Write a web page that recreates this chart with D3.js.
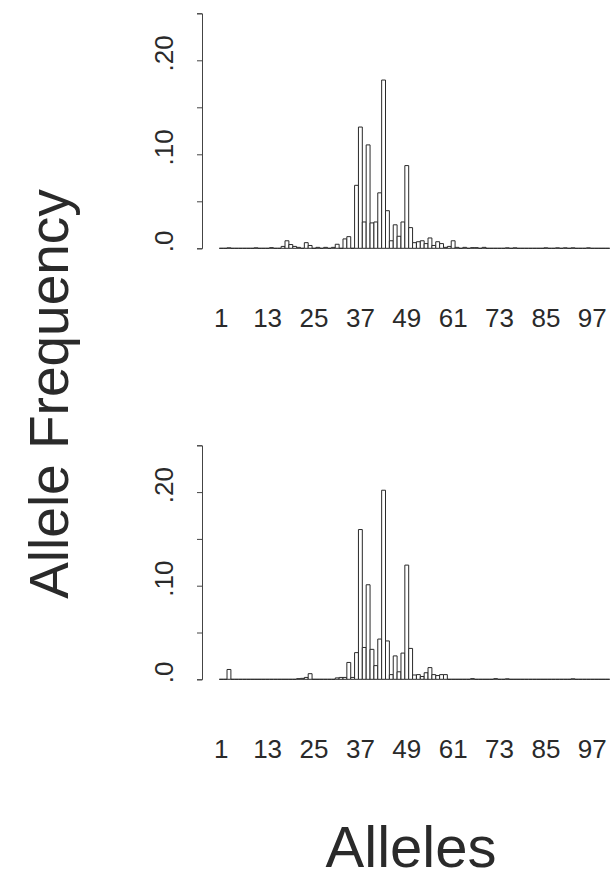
<!DOCTYPE html>
<html>
<head>
<meta charset="utf-8">
<script src="https://cdn.jsdelivr.net/npm/d3@7"></script>
<style>
  body { margin: 0; background: #fff; }
  text { font-family: "Liberation Sans", Arial, sans-serif; fill: #2a2a2a; }
</style>
</head>
<body>
<div id="container"></div>
<script>
let w = 610;
let h = 882;

// allele categories 1..101
let alleles = d3.range(1, 102);

// upper panel: alleles with a non-zero frequency
let topAlleles = [3, 10, 14, 17, 18, 19, 20, 21, 23, 24, 26, 28, 30, 31, 33, 34,
  36, 37, 38, 39, 40, 41, 42, 43, 44, 45, 46, 47, 48, 49, 50, 51, 52, 53, 54, 55,
  56, 57, 58, 59, 60, 61, 62, 64, 66, 67, 69, 75, 77, 85, 88, 90, 92, 96];
let topFreq = [0.0005, 0.0005, 0.0007, 0.002, 0.008, 0.004, 0.002, 0.001, 0.006, 0.003, 0.001, 0.001, 0.001, 0.0043, 0.010, 0.0124,
  0.067, 0.129, 0.028, 0.110, 0.027, 0.028, 0.059, 0.179, 0.040, 0.008, 0.025, 0.0128, 0.028, 0.088, 0.022, 0.006, 0.007, 0.008, 0.005, 0.011,
  0.003, 0.007, 0.005, 0.001, 0.002, 0.008, 0.001, 0.001, 0.0007, 0.0007, 0.001, 0.0005, 0.0005, 0.0005, 0.0005, 0.0005, 0.0005, 0.0005];

// lower panel
let botAlleles = [3, 21, 22, 23, 24, 31, 32, 33, 34, 35, 36, 37, 38, 39, 40, 41, 42, 43, 44, 45,
  46, 47, 48, 49, 50, 51, 52, 53, 54, 55, 56, 57, 58, 59, 66, 72, 75, 92];
let botFreq = [0.0105, 0.0007, 0.001, 0.002, 0.006, 0.0015, 0.002, 0.002, 0.018, 0.002, 0.0285, 0.160, 0.034, 0.101, 0.032, 0.0146, 0.043, 0.202, 0.041, 0.005,
  0.025, 0.008, 0.028, 0.122, 0.033, 0.0046, 0.005, 0.003, 0.007, 0.0125, 0.005, 0.004, 0.005, 0.005, 0.0007, 0.0007, 0.0005, 0.0005];

let xTicks = [1, 13, 25, 37, 49, 61, 73, 85, 97];
let yTicks = [0, 0.05, 0.10, 0.15, 0.20, 0.25];
let yLabels = [[0, ".0"], [0.10, ".10"], [0.20, ".20"]];

let viz = d3.select("#container")
  .append("svg")
    .attr("width", w)
    .attr("height", h)
    .style("background-color", "#fff");

let x = d3.scaleBand()
  .domain(alleles)
  .range([219.3, 609.7])
  .padding(0);

function fullSeries(as, fs) {
  let m = new Map(as.map((a, i) => [a, fs[i]]));
  return alleles.map(a => ({allele: a, freq: m.get(a) || 0}));
}

function panel(series, base, top) {
  let y = d3.scaleLinear().domain([0, 0.25]).range([base, top]);

  // y axis
  viz.append("g")
    .attr("transform", "translate(202,0)")
    .call(d3.axisLeft(y).tickValues(yTicks).tickSize(5).tickSizeOuter(5).tickFormat(""))
    .call(g => g.selectAll("path, line").attr("stroke", "#444").attr("stroke-width", 1));

  viz.selectAll(null).data(yLabels).enter()
    .append("text")
      .attr("transform", d => "translate(173," + (y(d[0]) - 7) + ") rotate(-90)")
      .attr("text-anchor", "middle")
      .style("font-size", "26px")
      .text(d => d[1]);

  // bars (zero ones collapse to the baseline)
  viz.append("g").selectAll("path").data(series).enter()
    .append("path")
      .attr("d", d => {
        let x0 = x(d.allele), x1 = x0 + x.bandwidth();
        return "M" + x0 + "," + y(0) + "V" + y(d.freq) + "H" + x1 + "V" + y(0) + "Z";
      })
      .attr("fill", "#fff")
      .attr("stroke", "#2a2a2a")
      .attr("stroke-width", 1);

  // allele labels
  viz.selectAll(null).data(xTicks).enter()
    .append("text")
      .attr("x", d => x(d) + x.bandwidth() / 2)
      .attr("y", base + 79)
      .attr("text-anchor", "middle")
      .style("font-size", "26px")
      .text(d => d);
}

panel(fullSeries(topAlleles, topFreq), 248.3, 13.3);
panel(fullSeries(botAlleles, botFreq), 679.3, 445.3);

viz.append("text")
  .attr("transform", "translate(68,394) rotate(-90)")
  .attr("text-anchor", "middle")
  .style("font-size", "55px")
  .text("Allele Frequency");

viz.append("text")
  .attr("x", 411)
  .attr("y", 867)
  .attr("text-anchor", "middle")
  .style("font-size", "58px")
  .text("Alleles");
</script>
</body>
</html>
